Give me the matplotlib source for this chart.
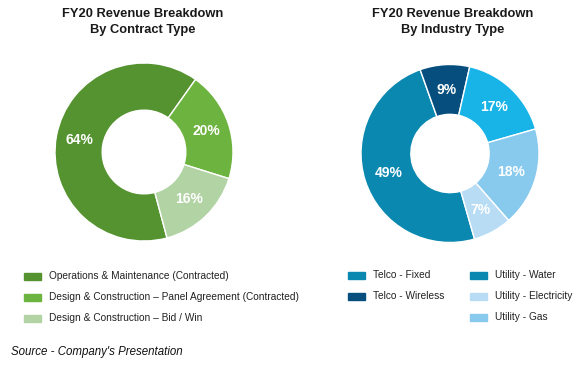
import matplotlib
matplotlib.use("Agg")
import matplotlib.pyplot as plt

plt.rcParams['font.family'] = ['Liberation Sans', 'DejaVu Sans']

# contract type breakdown
contract_labels = ["Operations & Maintenance (Contracted)",
                   "Design & Construction \u2013 Panel Agreement (Contracted)",
                   "Design & Construction \u2013 Bid / Win"]
contract_values = [64, 20, 16]
contract_colors = ["#559331", "#6db33f", "#b2d3a4"]

# industry type breakdown (wedges in clockwise order)
industry_labels = ["Telco - Fixed", "Telco - Wireless", "Utility - Water", "Utility - Gas", "Utility - Electricity"]
industry_values = [49, 9, 17, 18, 7]
industry_colors = ["#0b88b0", "#054e7e", "#18b4e8", "#88c9ee", "#b9dcf5"]
# legend swatches as shown in the source (water swatch re-uses the fixed colour)
legend_colors = {"Telco - Fixed": "#0b88b0", "Telco - Wireless": "#054e7e",
                 "Utility - Water": "#0b88b0", "Utility - Electricity": "#b9dcf5",
                 "Utility - Gas": "#88c9ee"}

W, H = 582, 369


def donut(cx, cy, r, values, colors, start, width):
    ax = fig.add_axes([(cx - r) / W, 1 - (cy + r) / H, 2 * r / W, 2 * r / H])
    wedges, _, autotexts = ax.pie(values, colors=colors, startangle=start, counterclock=False,
                                  autopct=lambda p: "{:.0f}%".format(p), pctdistance=1 - width / 2,
                                  wedgeprops=dict(width=width, edgecolor="white", linewidth=1.0))
    for t in autotexts:
        t.set_color("white")
        t.set_fontweight("bold")
        t.set_fontsize(10)
    ax.set_xlim(-1, 1)
    ax.set_ylim(-1, 1)
    return ax


def legend_row(x, y, color, label):
    fig.patches.append(plt.Rectangle((x / W, 1 - (y + 3.5) / H), 17 / W, 7 / H,
                                     transform=fig.transFigure, color=color))
    fig.text((x + 25) / W, 1 - y / H, label, fontsize=7.3, color="#222222", va="center")


fig = plt.figure(figsize=(W / 100, H / 100), dpi=100)

fig.text(143 / W, 1 - 22 / H, "FY20 Revenue Breakdown\nBy Contract Type", ha="center", va="center",
         fontsize=9.3, fontweight="bold", color="#1a1a1a", linespacing=1.45)
fig.text(453 / W, 1 - 22 / H, "FY20 Revenue Breakdown\nBy Industry Type", ha="center", va="center",
         fontsize=9.3, fontweight="bold", color="#1a1a1a", linespacing=1.45)

donut(144, 152, 89, contract_values, contract_colors, 285, 0.53)
donut(450, 153.5, 89, industry_values, industry_colors, 286, 0.56)

for i, lab in enumerate(contract_labels):
    legend_row(24, 276 + 21 * i, contract_colors[i], lab)

for i, lab in enumerate(["Telco - Fixed", "Telco - Wireless"]):
    legend_row(348, 275 + 21 * i, legend_colors[lab], lab)
for i, lab in enumerate(["Utility - Water", "Utility - Electricity", "Utility - Gas"]):
    legend_row(470, 275 + 21 * i, legend_colors[lab], lab)

fig.text(11 / W, 1 - 352 / H, "Source - Company's Presentation", fontsize=8.3, style="italic",
         color="#111111", va="center")

plt.savefig("out.png", dpi=100)
plt.close()
